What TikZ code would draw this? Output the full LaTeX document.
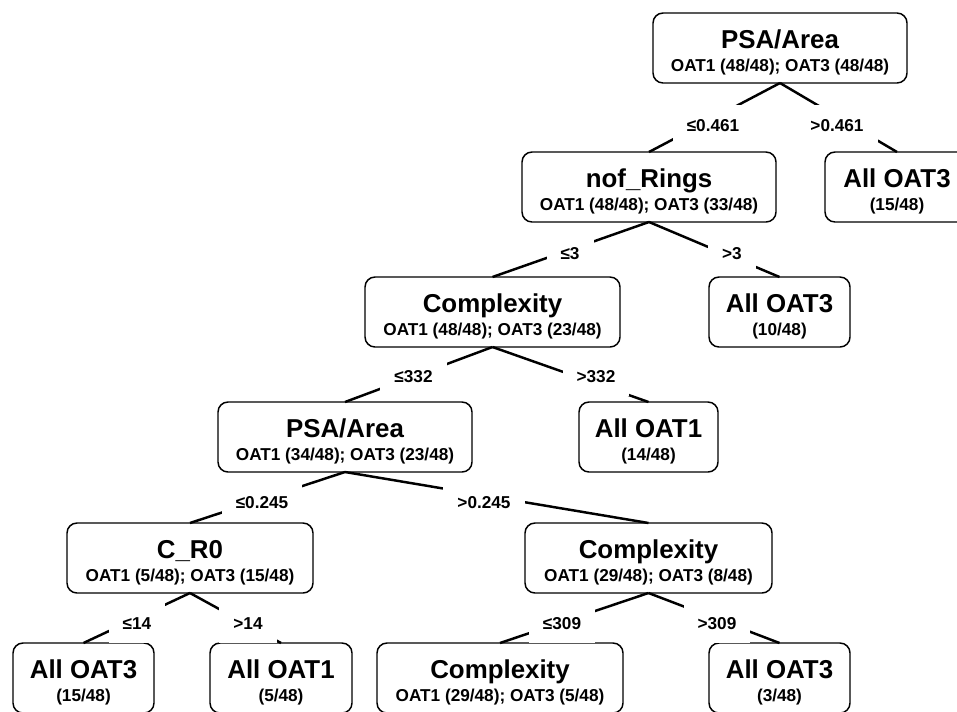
\documentclass[tikz,border=0pt]{standalone}
\usepackage{fontspec}
\setmainfont{Liberation Sans}
\newcommand\myttl{\fontsize{19.4}{22}\selectfont\bfseries}
\newcommand\mystat{\fontsize{12.9}{15}\selectfont\bfseries}
\tikzset{
  tbox/.style={draw, line width=1.1pt, rounded corners=7.5pt, fill=white,
    minimum height=52.5pt, inner sep=0pt, outer sep=0pt},
  ttl/.style={anchor=base, inner sep=0pt, font=\myttl},
  stt/.style={anchor=base, inner sep=0pt, font=\mystat},
  conn/.style={line width=1.85pt},
  elab/.style={fill=white, inner xsep=10.5pt, inner ysep=0pt, minimum height=30pt,
    text height=9.2pt, text depth=0pt, font=\mystat}
}
\begin{document}
\begin{tikzpicture}[x=0.75pt, y=-0.75pt]
\useasboundingbox (0,0) rectangle (957,711);
\clip (0,0) rectangle (957,711);

% boxes
\node[tbox, minimum width=190.5pt]  (A) at (780,48) {};
\node[tbox, minimum width=190.5pt]  (B) at (649,187) {};
\node[tbox, minimum width=108pt]    (C) at (897,187) {};
\node[tbox, minimum width=191.25pt] (D) at (492.5,312) {};
\node[tbox, minimum width=105.75pt] (E) at (779.5,312) {};
\node[tbox, minimum width=190.5pt]  (F) at (345,437) {};
\node[tbox, minimum width=104.25pt] (G) at (648.5,437) {};
\node[tbox, minimum width=184.5pt]  (H) at (190,558) {};
\node[tbox, minimum width=185.25pt] (I) at (648.5,558) {};
\node[tbox, minimum width=105.75pt] (J) at (83.5,678) {};
\node[tbox, minimum width=106.5pt]  (K) at (281,678) {};
\node[tbox, minimum width=184.5pt]  (L) at (500,678) {};
\node[tbox, minimum width=105.75pt] (M) at (779.5,678) {};

% texts
\foreach \n/\t/\s in {
  A/{PSA/Area}/{OAT1 (48/48); OAT3 (48/48)},
  B/{nof\_Rings}/{OAT1 (48/48); OAT3 (33/48)},
  C/{All OAT3}/{(15/48)},
  D/{Complexity}/{OAT1 (48/48); OAT3 (23/48)},
  E/{All OAT3}/{(10/48)},
  F/{PSA/Area}/{OAT1 (34/48); OAT3 (23/48)},
  G/{All OAT1}/{(14/48)},
  H/{C\_R0}/{OAT1 (5/48); OAT3 (15/48)},
  I/{Complexity}/{OAT1 (29/48); OAT3 (8/48)},
  J/{All OAT3}/{(15/48)},
  K/{All OAT1}/{(5/48)},
  L/{Complexity}/{OAT1 (29/48); OAT3 (5/48)},
  M/{All OAT3}/{(3/48)}}{
  \node[ttl] (\n-t) at ([yshift=-26.8pt]\n.north) {\t};
  \node[stt] (\n-s) at ([yshift=-44pt]\n.north) {\s};
}

% connectors
\draw[conn] (A.south) -- (B.north);
\draw[conn] (A.south) -- (C.north);
\draw[conn] (B.south) -- (D.north);
\draw[conn] (B.south) -- (E.north);
\draw[conn] (D.south) -- (F.north);
\draw[conn] (D.south) -- (G.north);
\draw[conn] (F.south) -- (H.north);
\draw[conn] (F.south) -- (I.north);
\draw[conn] (H.south) -- (J.north);
\draw[conn] (H.south) -- (K.north);
\draw[conn] (I.south) -- (L.north);
\draw[conn] (I.south) -- (M.north);

% edge labels
\node[elab] (l1)  at (713,125)   {≤0.461};
\node[elab] (l2)  at (837,125)   {>0.461};
\node[elab] (l3)  at (570,253)   {≤3};
\node[elab] (l4)  at (732,253)   {>3};
\node[elab] (l5)  at (413.5,376) {≤332};
\node[elab] (l6)  at (596,376)   {>332};
\node[elab] (l7)  at (262,502)   {≤0.245};
\node[elab] (l8)  at (484,502)   {>0.245};
\node[elab] (l9)  at (137,623)   {≤14};
\node[elab] (l10) at (248,623)   {>14};
\node[elab] (l11) at (562,623)   {≤309};
\node[elab] (l12) at (717,623)   {>309};
\end{tikzpicture}
\end{document}
